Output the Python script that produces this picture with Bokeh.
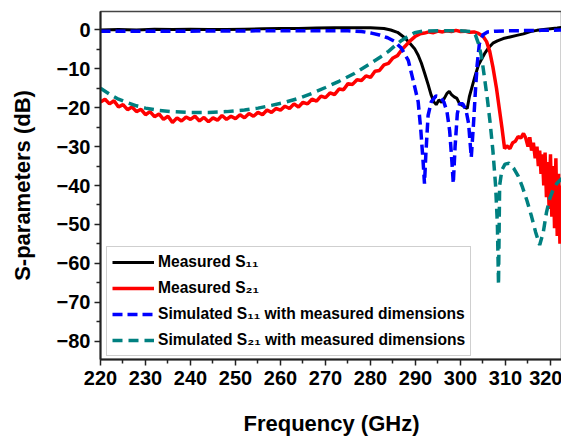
from bokeh.plotting import figure
from bokeh.models import FixedTicker, Legend, LegendItem, Range1d
from bokeh.embed import file_html
from bokeh.resources import INLINE

# ---------------- data ----------------
s11_meas_f = [220, 224, 228, 232, 236, 240, 244, 248, 252, 256, 260, 264, 268, 272, 276, 280,
              283, 284.5, 286, 287.6, 288.8, 289.8, 290.6, 291.3, 292, 292.8, 293.5, 294.1,
              294.6, 295.2, 295.8, 296.4, 297, 297.5, 298, 298.6, 299.2, 299.8, 300.4, 301,
              301.5, 302, 302.6, 303.2, 304, 304.7, 305.5, 306.3, 307.2, 308.2, 309.5, 311,
              312.5, 314, 315.5, 317, 318.5, 320, 321.5, 322.7]
s11_meas_v = [0.0, 0.1, 0.0, 0.2, 0.1, 0.2, 0.1, 0.1, 0.2, 0.3, 0.4, 0.4, 0.5, 0.6, 0.6, 0.6,
              0.4, 0.0, -0.6, -2.0, -3.5, -4.8, -6.5, -8.5, -11.0, -14.0, -16.8, -18.5,
              -19.2, -18.0, -18.6, -17.6, -16.3, -15.8, -16.6, -17.2, -17.6, -19.0, -19.4, -19.9,
              -20.2, -17.0, -14.5, -12.0, -9.0, -7.5, -5.8, -4.5, -3.4, -2.8, -2.2, -1.8,
              -1.4, -1.0, -0.4, -0.1, 0.1, 0.3, 0.5, 0.7]

# measured S21, band 220-303 GHz at 1 GHz steps
s21_meas_f = [220, 221, 222, 223, 224, 225, 226, 227, 228, 229, 230, 231,
              232, 233, 234, 235, 236, 237, 238, 239, 240, 241, 242, 243,
              244, 245, 246, 247, 248, 249, 250, 251, 252, 253, 254, 255,
              256, 257, 258, 259, 260, 261, 262, 263, 264, 265, 266, 267,
              268, 269, 270, 271, 272, 273, 274, 275, 276, 277, 278, 279,
              280, 281, 282, 283, 284, 285, 286, 287, 288, 289, 290, 291,
              292, 293, 294, 295, 296, 297, 298, 299, 300, 301, 302, 303,
              304, 305, 305.8, 306.5, 307.2, 308, 308.6, 309.2, 309.8, 310.3, 311, 311.6,
              312.2, 312.8, 313.4, 314, 314.5, 315, 315.4, 315.8, 316.2, 316.6, 317, 317.3,
              317.6, 317.9, 318.2, 318.5, 318.8, 319.1, 319.4, 319.7, 320, 320.3, 320.6, 320.9,
              321.2, 321.5, 321.8, 322.1, 322.4, 322.7]
s21_meas_v = [-18.5, -17.8, -19.0, -18.2, -19.8, -19.2, -20.5, -19.8, -21.0, -20.4, -21.8, -21.0,
              -22.3, -21.6, -23.0, -22.2, -23.8, -22.6, -23.4, -22.4, -23.0, -22.2, -23.4, -22.5,
              -23.6, -22.6, -23.2, -22.0, -23.0, -22.2, -22.8, -21.8, -22.6, -21.5, -22.2, -21.2,
              -21.8, -20.6, -21.2, -20.2, -20.6, -19.6, -20.2, -19.0, -19.8, -18.6, -19.0, -17.8,
              -18.3, -17.0, -17.4, -16.2, -16.6, -15.2, -15.4, -13.8, -14.0, -12.8, -13.0, -11.8,
              -12.2, -10.6, -10.4, -9.0, -8.6, -7.2, -6.6, -5.0, -3.8, -2.6, -1.6, -1.0,
              -0.8, -0.5, -0.7, -0.3, -0.5, -0.2, -0.4, -0.1, -0.4, -0.3, -0.6, -0.5,
              -0.9, -1.6, -3.0, -5.5, -9.5, -15.0, -20.0, -25.0, -30.5, -29.8, -30.5, -29.0,
              -28.6, -27.4, -27.8, -26.6, -27.8, -30.0, -27.6, -31.0, -29.0, -33.0, -30.0, -35.0,
              -31.0, -37.0, -32.0, -40.0, -31.5, -43.0, -34.0, -46.0, -32.0, -48.0, -35.0, -51.0,
              -33.0, -53.0, -37.0, -55.0, -40.0, -50.0]

s11_sim_f = [220, 240, 260, 275, 278, 280.2, 282, 283.8, 285.3, 286.8, 288.4, 289.8, 290.6,
             291.2, 291.7, 292.0, 292.3, 292.8, 293.5, 294.5, 295.5, 296.3, 297.0, 297.6, 298.1,
             298.4, 298.8, 299.3, 299.8, 300.5, 301.2, 301.8, 302.4, 302.9, 303.3, 303.7, 304.2,
             305.0, 306.0, 308.0, 312.0, 318.0, 322.7]
s11_sim_v = [-0.3, -0.3, -0.2, -0.2, -0.4, -0.8, -1.3, -2.0, -2.9, -4.6, -7.8, -14.5, -18.5,
             -26.0, -34.0, -39.5, -32.0, -22.0, -18.5, -17.0, -17.2, -18.5, -21.0, -26.0, -34.0,
             -39.5, -30.0, -21.5, -19.0, -19.0, -20.5, -24.0, -32.75, -24.0, -16.0, -9.0, -3.5,
             -1.2, -0.5, -0.3, -0.2, -0.1, 0.0]

s21_sim_f = [220, 222, 224, 226, 228, 230, 233, 236, 240, 244, 248, 252, 255, 258, 261, 264,
             267, 270, 273, 276.4, 280, 282.4, 284, 285.5, 286.9, 288.4, 289.8, 291.5, 295,
             300, 302.4, 303.3, 304.0, 304.7, 305.3, 306.0, 306.6, 307.2, 307.8, 308.2, 308.45,
             308.7, 309.2, 309.9, 310.8, 311.8, 312.8, 313.8, 314.8, 315.8, 316.7, 317.6, 318.4,
             319.1, 319.8, 320.6, 321.4, 322.7]
s21_sim_v = [-15.0, -16.5, -17.8, -18.7, -19.5, -20.1, -20.7, -21.0, -21.2, -21.2, -21.0, -20.6,
             -20.1, -19.4, -18.6, -17.6, -16.3, -14.8, -13.2, -11.2, -8.6, -6.8, -5.5, -4.0,
             -2.7, -1.6, -0.7, -0.3, -0.2, -0.2, -0.4, -1.2, -3.5, -7.0, -12.0, -18.0, -24.0,
             -31.0, -40.0, -50.0, -65.5, -40.0, -36.0, -34.5, -34.3, -35.5, -37.5, -40.5, -44.0,
             -48.0, -52.0, -55.3, -52.0, -47.0, -43.5, -41.0, -39.5, -38.0]

x_major = [220, 230, 240, 250, 260, 270, 280, 290, 300, 310, 320]
x_minor = [225, 235, 245, 255, 265, 275, 285, 295, 305, 315]
y_major = [0, -10, -20, -30, -40, -50, -60, -70, -80]
y_minor = [5, -5, -15, -25, -35, -45, -55, -65, -75, -85]

labels = ["Measured S\u2081\u2081", "Measured S\u2082\u2081",
          "Simulated S\u2081\u2081 with measured dimensions",
          "Simulated S\u2082\u2081 with measured dimensions"]
colors = ["#000000", "#ff0000", "#0000ff", "#008080"]

FONT = "Liberation Sans"

p = figure(width=562, height=438, output_backend="svg", toolbar_location=None,
           x_range=Range1d(220, 322.67), y_range=Range1d(-84.75, 4.75),
           min_border_left=100, min_border_right=0, min_border_top=11, min_border_bottom=69)
p.grid.visible = False
p.outline_line_color = "#444444"
p.outline_line_width = 1.5
p.background_fill_color = "white"
p.border_fill_color = "white"

r1 = p.line(s11_meas_f, s11_meas_v, line_color=colors[0], line_width=3)
r2 = p.line(s21_meas_f, s21_meas_v, line_color=colors[1], line_width=3.5)
r3 = p.line(s11_sim_f, s11_sim_v, line_color=colors[2], line_width=3.5, line_dash="10 5")
r4 = p.line(s21_sim_f, s21_sim_v, line_color=colors[3], line_width=3.5, line_dash="10 6")

p.xaxis.ticker = FixedTicker(ticks=x_major, minor_ticks=x_minor)
p.yaxis.ticker = FixedTicker(ticks=y_major, minor_ticks=y_minor)
p.xaxis.axis_label = "Frequency (GHz)"
p.yaxis.axis_label = "S-parameters (dB)"

for ax in (p.xaxis[0], p.yaxis[0]):
    ax.axis_line_width = 2
    ax.axis_line_color = "#222222"
    ax.major_tick_in = 0
    ax.major_tick_out = 6
    ax.minor_tick_in = 0
    ax.minor_tick_out = 4
    ax.major_tick_line_width = 1.5
    ax.minor_tick_line_width = 1.5
    ax.major_tick_line_color = "#222222"
    ax.minor_tick_line_color = "#222222"
    ax.major_label_text_font = FONT
    ax.major_label_text_font_style = "bold"
    ax.major_label_text_font_size = "20px"
    ax.major_label_text_color = "black"
    ax.axis_label_text_font = FONT
    ax.axis_label_text_font_style = "bold"
    ax.axis_label_text_font_size = "22px"
    ax.axis_label_text_color = "black"

p.xaxis.major_label_standoff = 5
p.yaxis.major_label_standoff = 4
p.xaxis.axis_label_standoff = 23
p.yaxis.axis_label_standoff = 19

legend = Legend(items=[LegendItem(label=labels[0], renderers=[r1]),
                       LegendItem(label=labels[1], renderers=[r2]),
                       LegendItem(label=labels[2], renderers=[r3]),
                       LegendItem(label=labels[3], renderers=[r4])],
                location=(6, 3))
legend.border_line_color = "#a0a0a0"
legend.border_line_width = 1.5
legend.background_fill_color = "white"
legend.background_fill_alpha = 1
legend.padding = 5
legend.spacing = 6
legend.margin = 0
legend.glyph_width = 42
legend.glyph_height = 20
legend.label_height = 20
legend.label_standoff = 4
legend.label_text_font = FONT
legend.label_text_font_style = "bold"
legend.label_text_font_size = "15.6px"
legend.label_text_color = "black"
p.add_layout(legend, "center")

open("out.html", "w").write(file_html(p, INLINE))
